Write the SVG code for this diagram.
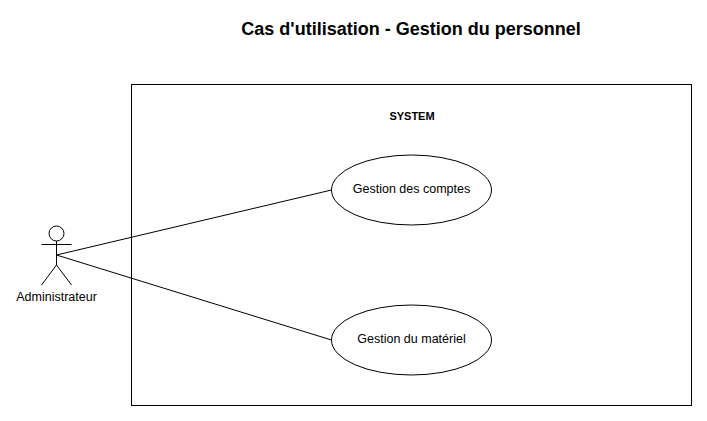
<svg xmlns="http://www.w3.org/2000/svg" width="707" height="421" viewBox="0 0 707 421">
<style>
.s{fill:none;stroke:#000;stroke-width:1}
.e{fill:#fff;stroke:#000;stroke-width:1}
text{font-family:"Liberation Sans",Arial,sans-serif;fill:#000;text-anchor:middle}
.l{font-size:12.5px}
</style>
<rect width="707" height="421" fill="#fff"/>
<text id="title" x="411" y="35" font-size="18" font-weight="bold">Cas d'utilisation - Gestion du personnel</text>
<g id="system"><rect class="s" x="131.500" y="84.500" width="560" height="321"/><text x="412" y="120" font-size="11" font-weight="bold">SYSTEM</text></g>
<g id="connectors"><path class="s" d="M56.500 255L331.500 190M56.500 255L331.500 340"/></g>
<g id="actor"><circle class="e" cx="56.500" cy="233.500" r="7.500"/><path class="s" d="M56.500 241V265M41.500 244.500H71.500M56.500 265L41.500 285M56.500 265L71.500 285"/><text class="l" x="56.500" y="301">Administrateur</text></g>
<g id="uc1"><ellipse class="e" cx="411.500" cy="190" rx="80" ry="35"/><text class="l" x="411.500" y="193">Gestion des comptes</text></g>
<g id="uc2"><ellipse class="e" cx="411.500" cy="340" rx="80" ry="35"/><text class="l" x="411.500" y="343">Gestion du matériel</text></g>
</svg>
